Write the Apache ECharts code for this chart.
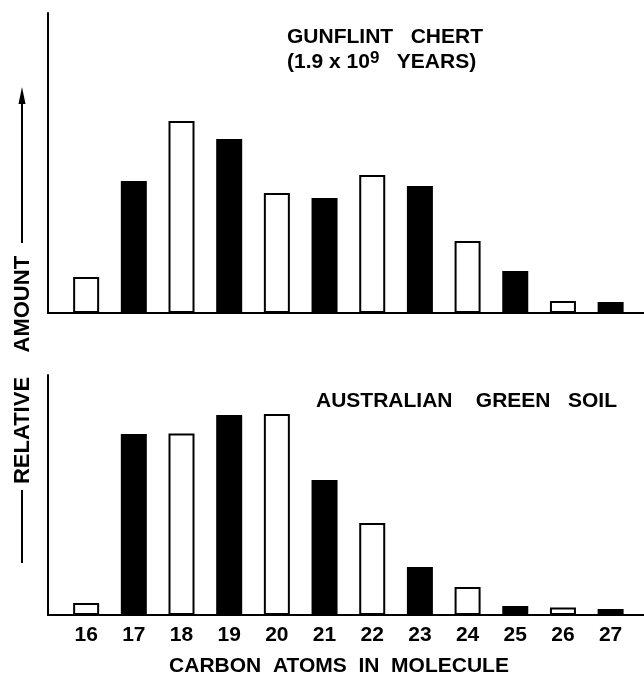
<!DOCTYPE html>
<html>
<head>
<meta charset="utf-8">
<script src="https://cdn.jsdelivr.net/npm/echarts@6/dist/echarts.min.js"></script>
<style>
html,body{margin:0;padding:0;background:#fff;}
#chart{width:644px;height:677px;}
</style>
</head>
<body>
<div id="chart"></div>
<script>
// Data
const carbonAtoms = [16, 17, 18, 19, 20, 21, 22, 23, 24, 25, 26, 27];
const tickLabels = ['16', '17', '18', '19', '20', '21', '22', '23', '24', '25', '26', '27'];
const gunflintChert = [12, 44, 64, 58, 40, 38.3, 46, 42.3, 24, 14, 4, 3.7];
const australianGreenSoil = [4, 60.3, 60.5, 66.7, 67, 45, 30.7, 16, 9.3, 3, 2.5, 2];

const FONT = '"Liberation Sans", Arial, sans-serif';

function barData(values) {
  return carbonAtoms.map((c, i) => ({
    value: [c, values[i]],
    itemStyle: {
      color: c % 2 === 1 ? '#000' : '#fff',
      borderColor: '#000',
      borderWidth: 2
    }
  }));
}

const chart = echarts.init(document.getElementById('chart'), null, {renderer: 'canvas'});

const xCommon = {
  type: 'value', min: 15.2, max: 27.7,
  splitLine: {show: false},
  axisLine: {show: true, onZero: true, lineStyle: {color: '#000', width: 2}},
  axisTick: {show: false}
};
const yCommon = {
  type: 'value', min: 0,
  splitLine: {show: false},
  axisLabel: {show: false},
  axisTick: {show: false},
  axisLine: {show: true, lineStyle: {color: '#000', width: 2}}
};

chart.setOption({
  animation: false,
  backgroundColor: '#fff',
  grid: [
    {left: 48, right: 0, top: 13, height: 300, outerBoundsMode: 'none', containLabel: false},
    {left: 48, right: 0, top: 375, height: 240, outerBoundsMode: 'none', containLabel: false}
  ],
  xAxis: [
    Object.assign({}, xCommon, {gridIndex: 0, axisLabel: {show: false}}),
    Object.assign({}, xCommon, {
      gridIndex: 1,
      axisLabel: {
        show: true,
        customValues: carbonAtoms,
        formatter: (v) => tickLabels[carbonAtoms.indexOf(Math.round(v))] || '',
        color: '#000', fontFamily: FONT, fontWeight: 'bold', fontSize: 21, margin: 10
      }
    })
  ],
  yAxis: [
    Object.assign({}, yCommon, {gridIndex: 0, max: 100}),
    Object.assign({}, yCommon, {gridIndex: 1, max: 80})
  ],
  series: [
    {type: 'bar', xAxisIndex: 0, yAxisIndex: 0, barWidth: 26, data: barData(gunflintChert)},
    {type: 'bar', xAxisIndex: 1, yAxisIndex: 1, barWidth: 26, data: barData(australianGreenSoil)}
  ],
  graphic: [
    {
      type: 'text', left: 287, top: 25,
      style: {
        text: 'GUNFLINT   CHERT\n(1.9 x 10{sup|9}   YEARS)',
        fill: '#000', font: 'bold 21px ' + FONT, lineHeight: 25,
        rich: {sup: {font: 'bold 17px ' + FONT, verticalAlign: 'top', padding: [0, 0, 10, 0]}}
      }
    },
    {
      type: 'text', left: 316, top: 391,
      style: {text: 'AUSTRALIAN    GREEN   SOIL', fill: '#000', font: 'bold 21px ' + FONT}
    },
    {
      type: 'text', x: 339, y: 666,
      style: {text: 'CARBON  ATOMS  IN  MOLECULE', fill: '#000', font: 'bold 21px ' + FONT, align: 'center', verticalAlign: 'middle'}
    },
    {
      type: 'text', x: 23, y: 370, rotation: Math.PI / 2,
      style: {text: 'RELATIVE    AMOUNT', fill: '#000', font: 'bold 22px ' + FONT, align: 'center', verticalAlign: 'middle'}
    },
    {type: 'line', shape: {x1: 22, y1: 243, x2: 22, y2: 100}, style: {stroke: '#000', lineWidth: 2}},
    {type: 'polygon', shape: {points: [[18.5, 104], [25.5, 104], [22, 87]]}, style: {fill: '#000'}},
    {type: 'line', shape: {x1: 22, y1: 490, x2: 22, y2: 563}, style: {stroke: '#000', lineWidth: 2}}
  ]
});
</script>
</body>
</html>
